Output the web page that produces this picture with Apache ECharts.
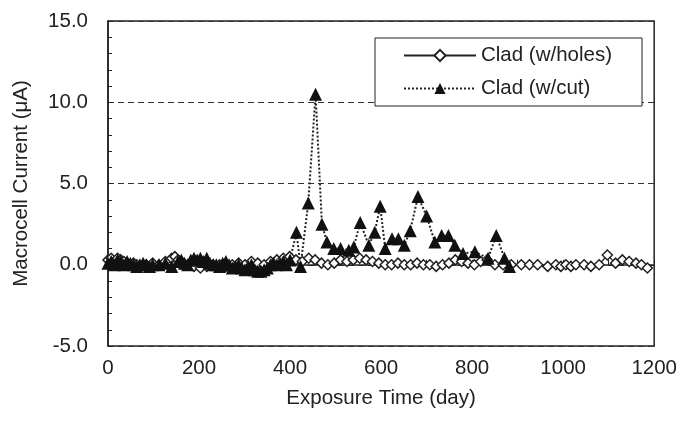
<!DOCTYPE html>
<html>
<head>
<meta charset="utf-8">
<script src="https://cdn.jsdelivr.net/npm/echarts@6/dist/echarts.min.js"></script>
<style>
  html, body { margin: 0; padding: 0; background: #fff; }
  #main { width: 680px; height: 421px; }
</style>
</head>
<body>
<div id="main"></div>
<script>
// Clad (w/holes) - diamonds, solid line
var holesDays = [0,7,14,21,28,35,42,49,56,63,
  70,84,98,112,126,140,147,154,161,175,
  189,203,217,231,245,259,273,287,301,315,
  329,343,357,371,385,399,413,427,441,455,
  469,483,497,511,525,539,553,567,581,595,
  609,623,637,651,665,679,693,707,721,735,
  749,763,777,791,805,819,833,850,868,886,
  908,926,944,966,984,995,1006,1017,1028,1046,
  1061,1079,1097,1115,1130,1145,1160,1172,1185];
var holesVals = [0.3,0.4,0.2,0.4,0.3,0.2,0.1,0.0,0.1,0.0,
  -0.1,0.0,0.1,0.0,0.2,0.4,0.5,0.3,0.2,0.0,
  -0.1,-0.2,-0.1,0.0,0.0,-0.1,0.0,0.1,0.0,0.2,
  0.1,0.0,0.2,0.3,0.4,0.5,0.3,0.2,0.4,0.3,
  0.1,0.0,0.1,0.3,0.2,0.3,0.4,0.3,0.2,0.1,
  0.0,0.0,0.1,0.0,0.0,0.1,0.0,0.0,-0.1,0.0,
  0.1,0.3,0.2,0.1,0.0,0.2,0.3,0.0,0.0,0.0,
  0.0,0.0,0.0,-0.1,0.0,-0.1,0.0,-0.1,0.0,0.0,
  -0.1,0.0,0.6,0.1,0.3,0.2,0.1,0.0,-0.2];

// Clad (w/cut) - filled triangles, dotted line
var cutDays = [0,7,14,21,28,35,42,49,56,63,
  70,77,84,91,98,112,126,140,154,161,
  168,175,182,189,196,203,210,217,224,231,
  238,245,252,259,266,273,280,287,294,301,
  308,315,322,329,336,343,350,357,364,371,
  378,385,392,400,414,423,440,456,470,481,
  496,511,529,540,554,573,586,598,609,624,
  638,651,664,681,700,718,733,748,762,780,
  806,835,853,871,882];
var cutVals = [0.1,0.2,0.0,0.3,0.2,0.0,0.2,0.1,0.0,-0.1,
  0.0,0.1,0.0,-0.1,0.0,0.0,0.1,-0.1,0.2,0.3,
  0.1,0.0,0.3,0.4,0.3,0.4,0.2,0.4,0.1,0.0,
  0.0,-0.1,0.1,0.2,0.0,-0.2,-0.1,0.0,-0.2,-0.3,
  -0.1,0.0,-0.3,-0.4,-0.4,-0.3,-0.2,0.0,0.1,0.0,
  0.1,0.2,0.0,0.3,2.0,-0.1,3.8,10.5,2.5,1.4,
  1.0,1.0,0.9,1.1,2.6,1.2,2.0,3.6,1.0,1.6,
  1.6,1.2,2.1,4.2,3.0,1.4,1.8,1.8,1.2,0.7,
  0.8,0.4,1.8,0.4,-0.1];

var seriesNames = ['Clad (w/holes)', 'Clad (w/cut)'];

function zip(xs, ys){
  var out = [];
  for (var i = 0; i < xs.length; i++) out.push([xs[i], ys[i]]);
  return out;
}

var textColor = '#222';
var chart = echarts.init(document.getElementById('main'));

chart.setOption({
  animation: false,
  textStyle: { fontFamily: 'Liberation Sans, Arial, sans-serif' },
  grid: {
    left: 108, right: 23, top: 21, bottom: 75,
    show: true, borderColor: '#222', borderWidth: 1.5
  },
  legend: {
    left: 375, top: 38,
    orient: 'vertical',
    data: seriesNames,
    itemWidth: 72, itemHeight: 14, itemGap: 12,
    padding: [7, 30, 7, 28],
    borderColor: '#222', borderWidth: 1,
    backgroundColor: '#fff',
    textStyle: { fontSize: 20.5, color: textColor }
  },
  xAxis: {
    type: 'value',
    min: 0, max: 1200, interval: 200,
    name: 'Exposure Time (day)',
    nameLocation: 'middle', nameGap: 42,
    nameTextStyle: { fontSize: 20.5, color: textColor },
    axisLine: { lineStyle: { color: '#222', width: 1.5 } },
    axisTick: { inside: true, length: 5, lineStyle: { color: '#222' } },
    minorTick: { show: true, splitNumber: 2, length: 5, lineStyle: { color: '#222' } },
    axisLabel: {
      fontSize: 20.5, color: textColor, margin: 12,
      formatter: function(v){ return String(v); }
    },
    splitLine: { show: false }
  },
  yAxis: {
    type: 'value',
    min: -5, max: 15, interval: 5,
    name: 'Macrocell Current (μA)',
    nameLocation: 'middle', nameGap: 76,
    nameTextStyle: { fontSize: 20.5, color: textColor },
    axisLine: { show: true, lineStyle: { color: '#222', width: 1.5 } },
    axisTick: { show: true, inside: true, length: 5, lineStyle: { color: '#222' } },
    minorTick: { show: true, splitNumber: 5, length: 4, lineStyle: { color: '#222' } },
    axisLabel: {
      fontSize: 20.5, color: textColor, margin: 20,
      formatter: function(v){ return v.toFixed(1); }
    },
    splitLine: { show: true, lineStyle: { color: '#333', type: [6, 4], width: 1 } }
  },
  series: [
    {
      name: seriesNames[0],
      type: 'line',
      data: zip(holesDays, holesVals),
      symbol: 'diamond', symbolSize: 10,
      showAllSymbol: true,
      lineStyle: { color: '#222', width: 1.2, type: 'solid' },
      itemStyle: { color: '#fff', borderColor: '#222', borderWidth: 1.5 }
    },
    {
      name: seriesNames[1],
      type: 'line',
      data: zip(cutDays, cutVals),
      symbol: 'triangle', symbolSize: 13,
      showAllSymbol: true,
      lineStyle: { color: '#222', width: 2, type: 'dotted' },
      itemStyle: { color: '#111', borderColor: '#111', borderWidth: 0 }
    }
  ]
});
</script>
</body>
</html>
